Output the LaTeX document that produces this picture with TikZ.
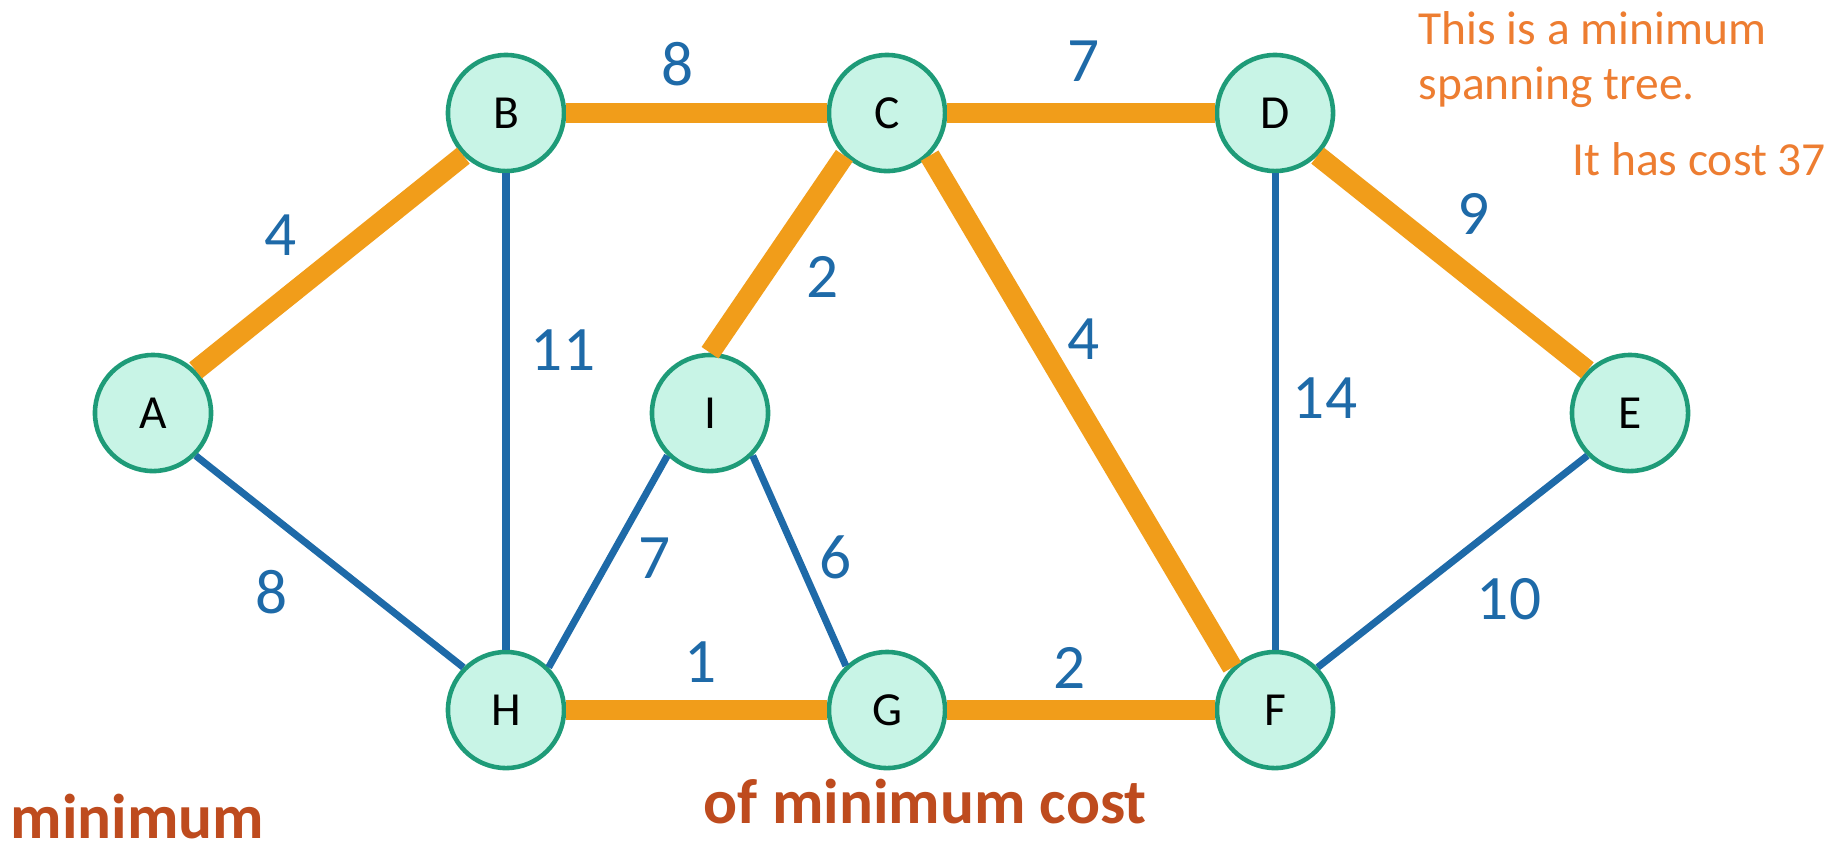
\documentclass[tikz,border=0pt]{standalone}
\usepackage{fontspec}
\setmainfont{Carlito}
\usetikzlibrary{positioning}
\definecolor{vfill}{RGB}{200,244,230}
\definecolor{vdraw}{RGB}{30,155,120}
\definecolor{mstorange}{RGB}{241,157,26}
\definecolor{edgeblue}{RGB}{30,106,168}
\definecolor{noteorange}{RGB}{237,125,49}
\definecolor{headbrown}{RGB}{190,75,30}
\tikzset{
  vertex/.style={circle, draw=vdraw, line width=1.3pt, fill=vfill, minimum size=1.16cm, inner sep=0pt, font=\fontsize{13.5}{16}\selectfont},
  treeedge/.style={line width=5.8pt, mstorange},
  plainedge/.style={line width=2pt, edgeblue},
  weight/.style={font=\fontsize{18}{20}\selectfont, text=edgeblue, inner sep=0pt},
  remark/.style={font=\fontsize{13.5}{15.6}\selectfont, text=noteorange, inner sep=0pt, align=left},
  heading/.style={font=\fontsize{18}{20}\selectfont\bfseries, text=headbrown, inner sep=0pt}
}
\begin{document}
\begin{tikzpicture}[x=0.01cm, y=-0.01cm]
  \useasboundingbox (0,0) rectangle (1831,841);
  \node[vertex] (a) at (153,413) {A};
  \node[vertex] (b) at (506,113) {B};
  \node[vertex] (c) at (887,113) {C};
  \node[vertex] (d) at (1275,113) {D};
  \node[vertex] (e) at (1630,413) {E};
  \node[vertex] (f) at (1275,710) {F};
  \node[vertex] (g) at (887,710) {G};
  \node[vertex] (h) at (506,710) {H};
  \node[vertex] (i) at (710,413) {I};
  \draw[treeedge] (a.45) -- (b.225);
  \draw[treeedge] (b) -- (c);
  \draw[treeedge] (c) -- (d);
  \draw[treeedge] (d.-45) -- (e.135);
  \draw[treeedge] (c.225) -- (i.north);
  \draw[treeedge] (c.-45) -- (f.135);
  \draw[treeedge] (h) -- (g);
  \draw[treeedge] (g) -- (f);
  \draw[plainedge] (a.-45) -- (h.135);
  \draw[plainedge] (b) -- (h);
  \draw[plainedge] (h.45) -- (i.225);
  \draw[plainedge] (i.-45) -- (g.133);
  \draw[plainedge] (d) -- (f);
  \draw[plainedge] (e.225) -- (f.45);
  \node[weight] (wab) at (281,235) {4};
  \node[weight] (wbc) at (678,64) {8};
  \node[weight] (wcd) at (1084,61) {7};
  \node[weight] (wde) at (1474,214) {9};
  \node[weight] (wbh) at (563,350) {11};
  \node[weight] (wci) at (823,277) {2};
  \node[weight] (wcf) at (1084,339) {4};
  \node[weight] (wdf) at (1325,398) {14};
  \node[weight] (wah) at (272,592) {8};
  \node[weight] (whi) at (655,558) {7};
  \node[weight] (wig) at (836,557) {6};
  \node[weight] (whg) at (701,662) {1};
  \node[weight] (wgf) at (1070,668) {2};
  \node[weight] (wef) at (1509,599) {10};
  \node[remark, anchor=north west] (mstnote) at (1418,11) {This is a minimum\\spanning tree.};
  \node[remark, anchor=base west] (costnote) at (1572,175) {It has cost 37};
  \node[heading, anchor=base west] (leftword) at (10,838) {minimum};
  \node[heading, anchor=base west] (bottomline) at (703,823) {of minimum cost};
\end{tikzpicture}
\end{document}
